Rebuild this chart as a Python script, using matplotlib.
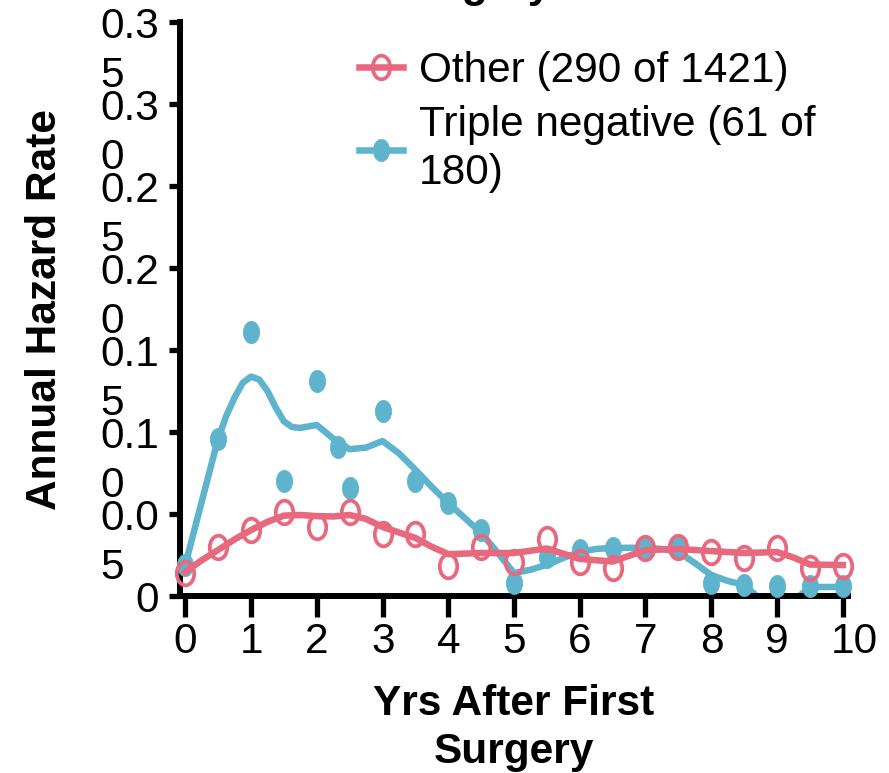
import numpy as np
import matplotlib
matplotlib.use('Agg')
import matplotlib.pyplot as plt
from matplotlib.markers import MarkerStyle
from matplotlib.transforms import Affine2D, ScaledTranslation
from matplotlib.legend_handler import HandlerLine2D
from matplotlib.lines import Line2D

plt.rcParams['font.family'] = ['Liberation Sans', 'DejaVu Sans']

# observed annual hazard rates (points)
other_x = [0, 0.5, 1, 1.5, 2, 2.5, 3, 3.5, 4, 4.5, 5, 5.5, 6, 6.5, 7, 7.5, 8, 8.5, 9, 9.5, 10]
other_y = [0.014, 0.030, 0.040, 0.051, 0.042, 0.051, 0.038, 0.038, 0.018, 0.030, 0.021,
           0.035, 0.021, 0.017, 0.029, 0.030, 0.027, 0.023, 0.029, 0.017, 0.018]

tn_x = [0, 0.5, 1, 1.5, 2, 2.33, 2.5, 3, 3.5, 4, 4.5, 5, 5.5, 6, 6.5, 7, 7.5, 8, 8.5, 9, 9.5, 10]
tn_y = [0.019, 0.096, 0.161, 0.070, 0.131, 0.091, 0.066, 0.113, 0.070, 0.057, 0.040, 0.008,
        0.024, 0.028, 0.029, 0.030, 0.030, 0.008, 0.007, 0.006, 0.006, 0.006]

# smoothed curves
other_fit_x = [0, 0.25, 0.5, 0.75, 1, 1.25, 1.5, 1.75, 2, 2.25, 2.5, 2.75, 3, 3.5, 3.75, 4, 4.5,
               5, 5.5, 6, 6.5, 7, 7.5, 8, 8.5, 9, 9.25, 9.5, 10]
other_fit_y = [0.0146, 0.0218, 0.0281, 0.0345, 0.0402, 0.0452, 0.0490, 0.0494, 0.0487, 0.0485,
               0.0494, 0.0470, 0.0421, 0.0354, 0.0300, 0.0255, 0.0262, 0.0262, 0.0290, 0.0226,
               0.0210, 0.0280, 0.0287, 0.0274, 0.0262, 0.0268, 0.0235, 0.0192, 0.0189]

tn_fit_x = [0, 0.25, 0.5, 0.625, 0.75, 0.875, 1, 1.125, 1.25, 1.375, 1.5, 1.625, 1.75, 2,
            2.25, 2.5, 2.75, 3, 3.25, 3.5, 3.75, 4, 4.25, 4.5, 4.75, 5, 5.25, 5.5, 5.75, 6,
            6.25, 6.5, 6.75, 7, 7.25, 7.5, 7.75, 8, 8.25, 8.5, 8.75, 9, 9.25, 9.5, 9.75, 10]
tn_fit_y = [0.0189, 0.0575, 0.0960, 0.1100, 0.1210, 0.1300, 0.1338, 0.1320, 0.1250, 0.1150,
            0.1065, 0.1030, 0.1025, 0.1043, 0.0960, 0.0895, 0.0905, 0.0945, 0.0870, 0.0770,
            0.0665, 0.0567, 0.0476, 0.0384, 0.0265, 0.0140, 0.0160, 0.0190, 0.0232, 0.0268,
            0.0287, 0.0293, 0.0294, 0.0293, 0.0287, 0.0268, 0.0201, 0.0128, 0.0092, 0.0067,
            -0.002, -0.006, -0.003, 0.0055, 0.0055, 0.0055]

yticks = [0, 0.05, 0.10, 0.15, 0.20, 0.25, 0.30, 0.35]
ytick_labels = ['0', '0.0\n5', '0.1\n0', '0.1\n5', '0.2\n0', '0.2\n5', '0.3\n0', '0.3\n5']
xticks = [0, 1, 2, 3, 4, 5, 6, 7, 8, 9, 10]

red = '#e8697d'
blue = '#5fb4cd'
FS = 30.5
LW = 4.7

fig = plt.figure(figsize=(8.89, 7.73), dpi=100)
ax = fig.add_axes([180 / 889, 1 - 596 / 773, 668 / 889, 574 / 773])

ell = MarkerStyle('o', transform=Affine2D().scale(0.74, 1.0))

ax.plot(tn_fit_x, tn_fit_y, color=blue, lw=LW, solid_joinstyle='round', zorder=2)
ax.plot(tn_x, tn_y, ls='none', marker=ell, ms=16, mfc=blue, mec=blue, mew=0.5, zorder=3, clip_on=False)
ax.plot(other_fit_x, other_fit_y, color=red, lw=LW, solid_joinstyle='round', zorder=4)
ax.plot(other_x, other_y, ls='none', marker=ell, ms=17, mfc='none', mec=red, mew=2.7, zorder=5, clip_on=False)

ax.set_xlim(-0.08, 10.08)
ax.set_ylim(0, 0.35)

for s in ['top', 'right']:
    ax.spines[s].set_visible(False)
for s in ['left', 'bottom']:
    ax.spines[s].set_linewidth(4.3)

ax.set_xticks(xticks)
ax.set_xticklabels([str(v) for v in xticks], fontsize=FS)
ax.set_yticks(yticks)
ax.set_yticklabels(ytick_labels, fontsize=FS, multialignment='left', linespacing=1.31)
ax.tick_params(axis='x', length=15, width=3.8, pad=4)
ax.tick_params(axis='y', length=8, width=3.8, pad=7)

# x labels sit left-aligned, so two-digit "10" runs to the right
xshift = ScaledTranslation(-11.5 / 100, 0, fig.dpi_scale_trans)
for lab in ax.get_xticklabels():
    lab.set_ha('left')
    lab.set_transform(lab.get_transform() + xshift)

yshift = ScaledTranslation(0, 11 / 72, fig.dpi_scale_trans)
for lab in ax.get_yticklabels():
    lab.set_va('top')
    lab.set_transform(lab.get_transform() + yshift)

ax.set_ylabel('Annual Hazard Rate', fontsize=FS, fontweight='bold', va='center')
ax.yaxis.set_label_coords(-0.202, 0.5)
ax.set_xlabel('Yrs After First\nSurgery', fontsize=FS, fontweight='bold', va='top', linespacing=1.23)
ax.xaxis.set_label_coords(0.5, -0.154)

# title sits mostly above the canvas, only its last line's descenders show
fig.text(472 / 889, 1.0 + 3 / 773, 'Surgery', ha='center', va='baseline', fontsize=FS, fontweight='bold')


class TwoDotHandler(HandlerLine2D):
    def get_xdata(self, legend, xdescent, ydescent, width, height, fontsize):
        xdata = np.array([-xdescent, -xdescent + width])
        xmark = -xdescent + width * np.array([0.25, 0.72])
        return xdata, xmark


h_other = Line2D([], [], color=red, lw=LW, marker=ell, ms=17, mfc='none', mec=red, mew=2.7)
h_tn = Line2D([], [], color=blue, lw=LW, marker=ell, ms=16, mfc=blue, mec=blue, mew=0.5)
leg = ax.legend([h_other, h_tn], ['Other (290 of 1421)', 'Triple negative (61 of\n180)'],
                handler_map={h_other: TwoDotHandler(), h_tn: TwoDotHandler()},
                loc='upper left', bbox_to_anchor=(359 / 889, 1 - 51 / 773),
                bbox_transform=fig.transFigure, frameon=False, fontsize=FS,
                handlelength=1.05, handletextpad=0.36, labelspacing=0.32, borderpad=0,
                borderaxespad=0)
for t in leg.get_texts():
    t.set_linespacing(1.28)

fig.savefig('out.png', dpi=100)
